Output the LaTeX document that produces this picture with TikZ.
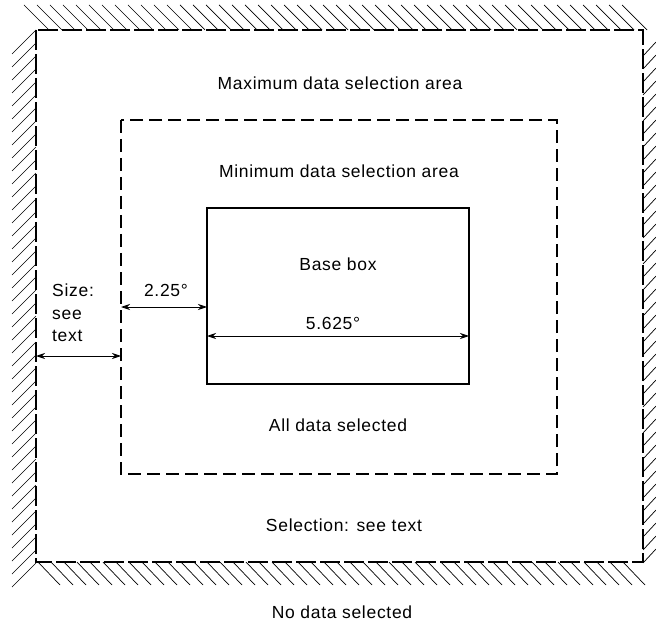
\documentclass[tikz,border=0pt]{standalone}
\usepackage{fontspec}
\setmainfont{Liberation Sans}[LetterSpace=4]
\usetikzlibrary{arrows.meta}
\begin{document}
\begin{tikzpicture}[x=1pt,y=-1pt,
  lbl/.style={font=\fontsize{17.5}{22.5}\selectfont, inner sep=0pt},
  outerline/.style={line width=1.6pt, dash pattern=on 20pt off 4pt},
  innerdash/.style={line width=1.3pt, dash pattern=on 13pt off 6pt},
  hatch/.style={line width=0.7pt},
  dim/.style={line width=0.8pt, {Stealth[length=9pt,width=6pt]}-{Stealth[length=9pt,width=6pt]}},
  basebox/.style={line width=1.4pt}]
\useasboundingbox (0,0) rectangle (656,631);
% outer area
\coordinate (otl) at (36,30);
\coordinate (obr) at (643,562);
\draw[outerline] (otl) rectangle (obr);
% hatching
\foreach \x in {24,37,...,630} \draw[hatch] (\x,5) -- (\x+25,30);
\foreach \y in {30,43,...,570} \draw[hatch] (36,\y) -- (12,\y+24);
\foreach \y in {42,55,...,560} \draw[hatch] (656,\y) -- (643,\y+14);
\foreach \x in {38,51,...,635} \draw[hatch] (\x,562) -- (\x+22,585);
% inner dashed box
\coordinate (itl) at (121,120);
\coordinate (ibr) at (557,474);
\draw[innerdash] (itl) rectangle (ibr);
% base box
\coordinate (btl) at (207,208);
\coordinate (bbr) at (469,384);
\draw[basebox] (btl) rectangle (bbr);
% labels
\node[lbl] (maxl) at (340,83) {Maximum data selection area};
\node[lbl] (minl) at (339,171) {Minimum data selection area};
\node[lbl] (base) at (338,264) {Base box};
\node[lbl] (d5) at (333,323) {5.625°};
\node[lbl] (d2) at (166,290) {2.25°};
\node[lbl, anchor=west, align=left] (size) at (52,313) {Size:\\see\\text};
\node[lbl] (all) at (338,425) {All data selected};
\node[lbl] (sel) at (344,525) {Selection: see text};
\node[lbl] (none) at (342,612) {No data selected};
% dimension arrows
\coordinate (a1) at (207,336);
\coordinate (a2) at (469,336);
\draw[dim] (a1) -- (a2);
\coordinate (b1) at (121,307);
\coordinate (b2) at (207,307);
\draw[dim] (b1) -- (b2);
\coordinate (c1) at (36,356);
\coordinate (c2) at (121,356);
\draw[dim] (c1) -- (c2);
\end{tikzpicture}
\end{document}
